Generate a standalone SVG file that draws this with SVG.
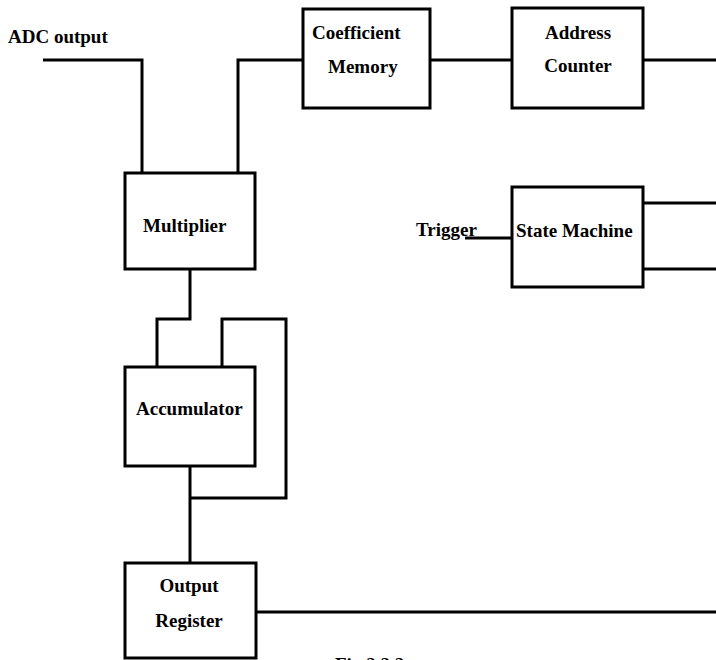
<svg xmlns="http://www.w3.org/2000/svg" width="716" height="660" viewBox="0 0 716 660">
  <style>
    .box { fill: #fff; stroke: #000; stroke-width: 3; }
    .wire { fill: none; stroke: #000; stroke-width: 3; stroke-linejoin: miter; }
    .lbl { font-family: "Liberation Serif", "Times New Roman", serif; font-weight: bold; font-size: 19px; fill: #000; }
  </style>
  <rect width="716" height="660" fill="#fff"/>

  <!-- connectors -->
  <g id="connectors">
    <path class="wire" d="M43,60 H142 V173"/>
    <path class="wire" d="M303,60 H238 V173"/>
    <path class="wire" d="M430,60 H512"/>
    <path class="wire" d="M643,60 H716"/>
    <path class="wire" d="M465,238 H512"/>
    <path class="wire" d="M643,203 H716"/>
    <path class="wire" d="M643,269 H716"/>
    <path class="wire" d="M190,269 V319 H157 V367"/>
    <path class="wire" d="M222,367 V319 H286 V498 H190"/>
    <path class="wire" d="M190,466 V563"/>
    <path class="wire" d="M256,612 H716"/>
  </g>

  <!-- input labels -->
  <text class="lbl" x="8" y="43">ADC output</text>
  <text class="lbl" x="416" y="236">Trigger</text>

  <g id="coefficient-memory">
    <rect class="box" x="303" y="9" width="127" height="99"/>
    <text class="lbl" x="312" y="39">Coefficient</text>
    <text class="lbl" x="328" y="73">Memory</text>
  </g>

  <g id="address-counter">
    <rect class="box" x="512" y="8" width="131" height="100"/>
    <text class="lbl" x="578" y="39" text-anchor="middle">Address</text>
    <text class="lbl" x="578" y="72" text-anchor="middle">Counter</text>
  </g>

  <g id="multiplier">
    <rect class="box" x="125" y="173" width="130" height="96"/>
    <text class="lbl" x="143" y="232">Multiplier</text>
  </g>

  <g id="state-machine">
    <rect class="box" x="512" y="187" width="131" height="100"/>
    <text class="lbl" x="516" y="237">State Machine</text>
  </g>

  <g id="accumulator">
    <rect class="box" x="125" y="367" width="130" height="99"/>
    <text class="lbl" x="136" y="415">Accumulator</text>
  </g>

  <g id="output-register">
    <rect class="box" x="125" y="563" width="131" height="95"/>
    <text class="lbl" x="189" y="592" text-anchor="middle">Output</text>
    <text class="lbl" x="189" y="627" text-anchor="middle">Register</text>
  </g>

  <!-- figure caption, running off the lower edge -->
  <text class="lbl" x="335" y="671" font-size="20">Fig 2.2.2</text>
</svg>
